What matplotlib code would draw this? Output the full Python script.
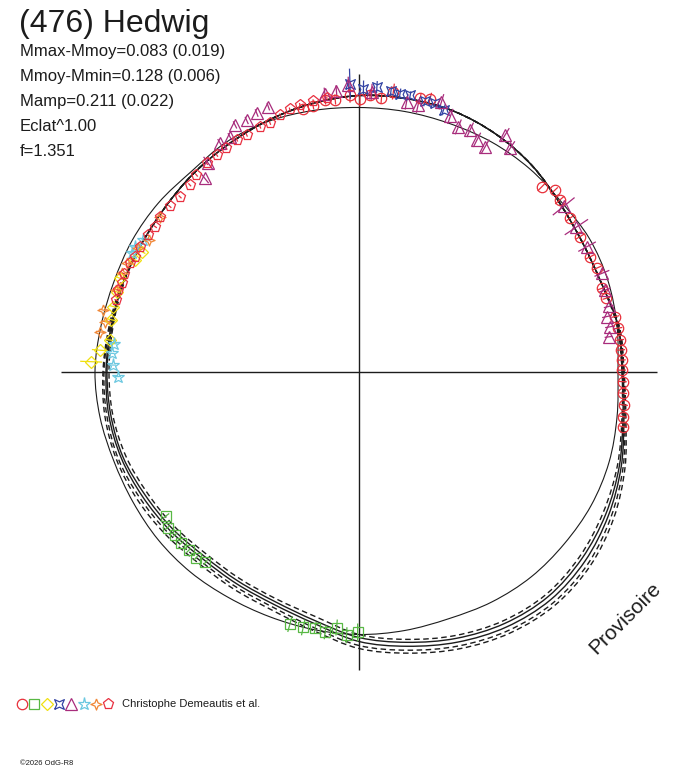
import numpy as np
import matplotlib
matplotlib.use("Agg")
import matplotlib.pyplot as plt
from matplotlib.collections import LineCollection
from matplotlib.path import Path
from matplotlib.patches import PathPatch

W, H = 688, 768
CX, CY = 359, 371.5          # centre of the polar diagram (px from left / top)
AXIS_HALF = 298

# model curves, radius every 10 deg starting at 0 deg (counter-clockwise)
ANG = np.arange(0, 360, 10)
thin_r = [259, 262, 265, 266, 264, 265, 265, 264, 264, 264, 265, 266, 265, 261, 262, 262, 261, 262,
          264, 263, 261, 261, 262, 262, 261, 261, 262, 263, 263, 263, 266, 268, 268, 268, 266, 262]
solid_a = [264, 263, 258, 258, 262, 269, 274, 277, 277, 276, 272, 267, 262, 258, 254, 252, 252, 252,
           253, 254, 253, 250, 247, 244, 245, 248, 256, 270, 279, 288, 295, 298, 295, 288, 279, 269]
solid_b = [263, 263, 258, 258, 262, 269, 274, 277, 277, 276, 272, 267, 262, 258, 254, 252, 252, 251,
           252, 252, 251, 247, 244, 241, 242, 245, 253, 266, 275, 284, 291, 294, 291, 285, 277, 268]
dash_c = [265, 264, 258, 258, 262, 269, 274, 277, 277, 276, 272, 267, 262, 258, 254, 252, 253, 254,
          256, 258, 258, 256, 253, 250, 251, 254, 263, 277, 286, 295, 302, 305, 302, 294, 283, 271]
dash_d = [263, 262, 258, 258, 262, 269, 274, 277, 277, 276, 272, 267, 262, 258, 254, 252, 251, 250,
          250, 250, 248, 244, 241, 238, 239, 242, 249, 263, 272, 281, 288, 291, 288, 282, 275, 267]
dash_e = [265, 264, 258, 258, 262, 269, 274, 277, 277, 276, 272, 267, 262, 258, 254, 252, 252, 253,
          255, 256, 256, 253, 250, 247, 248, 251, 260, 274, 283, 292, 299, 302, 299, 291, 281, 270]

# observations: angle (deg), radius, error
circ_ang = [45.3, 42.8, 40.5, 36.0, 31.4, 26.4, 23.5, 18.9, 16.5, 12.1, 9.5, 6.9, 4.7, 2.5, 0.3,
            -2.2, -4.7, -7.2, -9.7, -11.8,
            102.0, 99.8, 97.1, 95.0, 91.9, 89.8, 87.7, 85.3, 83.0, 77.4, 75.4]
circ_r = [260, 267, 264, 261, 259, 258, 259, 257, 258, 262, 263, 263, 263, 263, 263,
          264, 265, 267, 268, 270,
          268, 269, 274, 273, 277, 273, 277, 274, 282, 280, 282]
circ_e = [6, 4, 6, 5, 5, 5, 5, 5, 4, 4, 4, 4, 4, 4, 4, 4, 4, 4, 4, 4,
          3, 3, 5, 5, 8, 8, 5, 5, 8, 5, 6]

sq_ang = [216.8, 219.2, 221.6, 224.0, 226.4, 228.8, 231.2, 254.7, 257.7, 260.3, 262.6, 265.0, 267.3, 269.7]
sq_r = [241, 247, 246, 247, 247, 248, 245, 262, 262, 260, 263, 257, 264, 261]
sq_e = [4, 3, 3, 3, 3, 3, 3, 8, 8, 6, 7, 8, 8, 9]

dia_ang = [151.1, 153.5, 158.7, 161.8, 165.2, 168.2, 172.8, 175.3, 177.9]
dia_r = [248, 250, 257, 255, 254, 253, 251, 260, 268]
dia_e = [4, 4, 4, 4, 4, 5, 5, 8, 11]

bow_ang = [91.8, 89.1, 86.4, 83.5, 81.6, 79.5, 76.3, 74.2, 72.1]
bow_r = [288, 283, 285, 282, 281, 281, 278, 279, 275]
bow_e = [15, 8, 6, 5, 5, 4, 5, 4, 6]

tri_ang = [108.9, 111.6, 114.1, 116.7, 118.8, 121.3, 125.9, 128.6,
           97.0, 94.6, 92.1, 87.4, 80.0, 77.5, 73.0, 70.3, 67.9, 65.3, 63.0, 60.7, 58.3, 55.9,
           38.9, 33.6, 28.7, 22.0, 18.3, 14.6, 12.5, 10.1, 7.9]
tri_r = [280, 278, 275, 276, 268, 267, 257, 247,
         280, 281, 287, 280, 274, 273, 282, 271, 264, 266, 260, 258, 278, 270,
         263, 261, 260, 262, 259, 258, 254, 255, 252]
tri_e = [4, 4, 4, 4, 4, 5, 8, 6,
         6, 6, 8, 8, 8, 8, 8, 8, 8, 8, 8, 8, 8, 8,
         14, 14, 10, 8, 6, 5, 5, 5, 4]

star_ang = [148.6, 150.9, 152.5, 173.5, 175.8, 178.5, 181.2]
star_r = [253, 256, 256, 247, 248, 246, 241]
star_e = [3, 3, 3, 4, 3, 3, 3]

st4_ang = [142.1, 148.0, 150.8, 155.0, 157.5, 161.4, 166.5, 168.9, 171.3]
st4_r = [252, 248, 253, 256, 257, 256, 263, 259, 262]
st4_e = [3, 3, 3, 3, 3, 3, 4, 4, 4]

pent_ang = [96.7, 99.6, 102.5, 104.8, 107.1, 109.7, 112.0, 115.4, 117.8, 120.7, 123.3, 126.2, 129.6,
            132.2, 135.7, 138.9, 142.1, 144.6, 147.1, 150.3, 152.9, 154.7, 157.4, 159.6, 161.3, 163.6]
pent_r = [275, 274, 273, 271, 268, 264, 264, 262, 262, 260, 259, 258, 255,
          252, 250, 251, 252, 250, 251, 252, 252, 253, 255, 253, 254, 253]
pent_e = [2] * len(pent_ang)

title = "(476) Hedwig"
stats = ["Mmax-Mmoy=0.083 (0.019)", "Mmoy-Mmin=0.128 (0.006)", "Mamp=0.211 (0.022)",
         "Eclat^1.00", "f=1.351"]
author = "Christophe Demeautis et al."

bowtie = [(-1, -1), (0, -0.55), (1, -1), (0.55, 0), (1, 1), (0, 0.55), (-1, 1), (-0.55, 0), (-1, -1)]
star4 = [(0, 1), (0.28, 0.28), (1, 0), (0.28, -0.28), (0, -1), (-0.28, -0.28), (-1, 0), (-0.28, 0.28), (0, 1)]

series = [
    (circ_ang, circ_r, circ_e, "o", 7.5, "#e8303a"),
    (sq_ang, sq_r, sq_e, "s", 6.5, "#58b844"),
    (dia_ang, dia_r, dia_e, "D", 6.0, "#f0e010"),
    (bow_ang, bow_r, bow_e, bowtie, 7.0, "#3444a4"),
    (tri_ang, tri_r, tri_e, "^", 8.5, "#a82c7c"),
    (star_ang, star_r, star_e, "*", 9.5, "#6cc8e0"),
    (st4_ang, st4_r, st4_e, star4, 8.0, "#f08838"),
    (pent_ang, pent_r, pent_e, "p", 8.0, "#e83040"),
]


def to_xy(ang, r):
    a = np.radians(np.asarray(ang, dtype=float))
    r = np.asarray(r, dtype=float)
    return r * np.cos(a), r * np.sin(a)


def smooth_closed_path(ang, r):
    # closed Catmull-Rom curve through the sampled points, as cubic Bezier segments
    x, y = to_xy(ang, r)
    p = np.column_stack([x, y])
    n = len(p)
    verts = [p[0]]
    codes = [Path.MOVETO]
    for i in range(n):
        p0, p1, p2, p3 = p[i - 1], p[i], p[(i + 1) % n], p[(i + 2) % n]
        verts += [p1 + (p2 - p0) / 6, p2 - (p3 - p1) / 6, p2]
        codes += [Path.CURVE4] * 3
    return Path(verts, codes)


def fx(px):
    return px / W


def fy(py):
    return 1 - py / H


plt.rcParams["font.family"] = ["Liberation Sans", "DejaVu Sans"]
fig = plt.figure(figsize=(W / 100, H / 100), dpi=100)
ax = fig.add_axes([0, 0, 1, 1])
ax.set_xlim(-CX, W - CX)
ax.set_ylim(CY - H, CY)
ax.axis("off")

ink = "#1c1c1c"
ax.add_patch(PathPatch(smooth_closed_path(ANG, thin_r), fill=False, ec=ink, lw=0.8))
for r in (solid_a, solid_b):
    ax.add_patch(PathPatch(smooth_closed_path(ANG, r), fill=False, ec=ink, lw=1.0))
for r in (dash_c, dash_d, dash_e):
    ax.add_patch(PathPatch(smooth_closed_path(ANG, r), fill=False, ec=ink, lw=1.0, ls=(0, (4, 2.5))))

ax.hlines(0, -AXIS_HALF, AXIS_HALF, color=ink, lw=1.0)
ax.vlines(0, -AXIS_HALF, AXIS_HALF, color=ink, lw=1.0)

for ang, r, e, mk, ms, col in series:
    r = np.asarray(r, dtype=float)
    e = np.asarray(e, dtype=float)
    x0, y0 = to_xy(ang, r - e)
    x1, y1 = to_xy(ang, r + e)
    segs = np.stack([np.column_stack([x0, y0]), np.column_stack([x1, y1])], axis=1)
    ax.add_collection(LineCollection(segs, colors=col, linewidths=0.9, zorder=3))
    x, y = to_xy(ang, r)
    ax.plot(x, y, ls="none", marker=mk, ms=ms, mfc="none", mec=col, mew=0.9, zorder=4)

# legend row
for i, (_, _, _, mk, ms, col) in enumerate(series):
    ax.plot([fx(22 + 12.3 * i)], [fy(704)], marker=mk, ms=ms, mfc="none", mec=col, mew=0.9,
            transform=fig.transFigure, clip_on=False)
fig.text(fx(122), fy(704), author, fontsize=8, va="center", ha="left", color=ink)

fig.text(fx(19), fy(32), title, fontsize=23, va="baseline", ha="left", color=ink)
for i, s in enumerate(stats):
    fig.text(fx(20), fy(56 + 25 * i), s, fontsize=12, va="baseline", ha="left", color=ink)

fig.text(fx(625), fy(618), "Provisoire", fontsize=15, rotation=45, ha="center", va="center",
         color=ink, rotation_mode="anchor")
fig.text(fx(20), fy(765), "\u00a92026 OdG-R8", fontsize=5.5, va="baseline", ha="left", color=ink)

fig.savefig("out.png", dpi=100)
